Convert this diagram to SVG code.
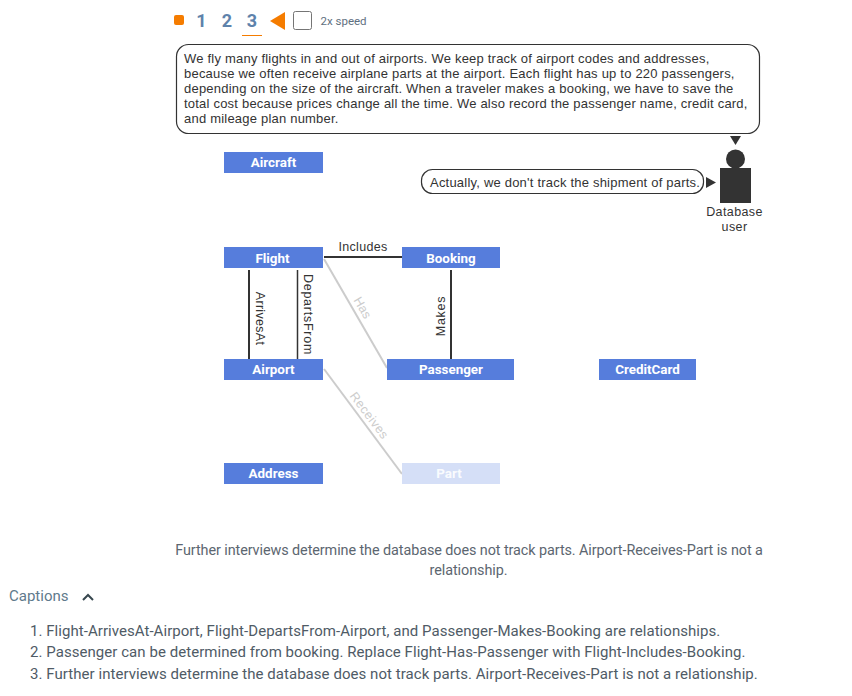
<svg xmlns="http://www.w3.org/2000/svg" width="852" height="696" viewBox="0 0 852 696">
<style>
.ui{font-family:Roboto,sans-serif}
.ar{font-family:"Liberation Sans",Arial,sans-serif}
.box{fill:#567ddc}
.lbl{font-family:Roboto,sans-serif;font-size:13.4px;font-weight:700;fill:#fff;text-anchor:middle}
.speech{font-family:"Liberation Sans",Arial,sans-serif;font-size:13px;fill:#333;letter-spacing:.21px}
.bub{fill:#fff;stroke:#333;stroke-width:1.2}
.cap{font-family:Roboto,sans-serif;font-size:15px;fill:#4f5b66;letter-spacing:.05px}
.edge{stroke:#333;fill:none}
.ghost{stroke:#ccc;stroke-width:2;fill:none}
.el{font-family:"Liberation Sans",Arial,sans-serif;font-size:12.5px;fill:#333;text-anchor:middle;letter-spacing:.3px}
.step{font-family:Roboto,sans-serif;font-size:18px;font-weight:700;fill:#5e82ab;text-anchor:middle}
</style>
<g id="controls">
<rect x="174" y="15" width="10" height="10" rx="2" fill="#f57c00"/>
<text class="step" x="201.500" y="26.500">1</text>
<text class="step" x="227" y="26.500">2</text>
<text class="step" x="252" y="26.500">3</text>
<rect x="242" y="35" width="20" height="1" fill="#f57c00"/>
<polygon points="270,21 285,12 285,30" fill="#f57c00"/>
<rect x="293.500" y="11.500" width="18" height="18" rx="2" fill="#fff" stroke="#757575" stroke-width="1"/>
<text class="ui" x="320.500" y="25" font-size="11.500" fill="#5f6f80">2x speed</text>
</g>
<g id="connectors">
<line class="ghost" x1="324" y1="259" x2="387" y2="368"/>
<line class="ghost" x1="324" y1="369" x2="402" y2="474"/>
<line class="edge" stroke-width="2" x1="324" y1="257" x2="402" y2="257"/>
<line class="edge" stroke-width="2" x1="249" y1="270" x2="249" y2="359"/>
<line class="edge" stroke-width="1.500" x1="297.500" y1="270" x2="297.500" y2="359"/>
<line class="edge" stroke-width="2" x1="451" y1="270" x2="451" y2="359"/>
<text class="el" x="363" y="251">Includes</text>
<text class="el" transform="translate(256 318.500) rotate(90)">ArrivesAt</text>
<text class="el" style="letter-spacing:.75px" transform="translate(304 314.500) rotate(90)">DepartsFrom</text>
<text class="el" style="letter-spacing:.7px" transform="translate(445 316) rotate(-90)">Makes</text>
<text class="el" style="fill:#ccc" transform="translate(359 310) rotate(60)">Has</text>
<text class="el" style="fill:#ccc;letter-spacing:.5px" transform="translate(366 418) rotate(53)">Receives</text>
</g>
<g id="Aircraft"><rect class="box" x="224" y="152" width="99" height="21"/><text class="lbl" x="273.500" y="167">Aircraft</text></g>
<g id="Flight"><rect class="box" x="224" y="247" width="99" height="21"/><text class="lbl" x="272.500" y="263">Flight</text></g>
<g id="Booking"><rect class="box" x="402" y="247" width="98" height="21"/><text class="lbl" x="451" y="263">Booking</text></g>
<g id="Airport"><rect class="box" x="224" y="359" width="99" height="21"/><text class="lbl" x="273.500" y="374">Airport</text></g>
<g id="Passenger"><rect class="box" x="387" y="359" width="127" height="21"/><text class="lbl" x="451" y="374">Passenger</text></g>
<g id="CreditCard"><rect class="box" x="599" y="359" width="97" height="21"/><text class="lbl" x="647.500" y="374">CreditCard</text></g>
<g id="Address"><rect class="box" x="224" y="463" width="99" height="21"/><text class="lbl" x="273.500" y="478">Address</text></g>
<g id="Part"><rect x="402" y="463" width="98" height="21" fill="#d5dff7"/><text class="lbl" x="449" y="478" fill-opacity=".9">Part</text></g>
<g id="speech-main">
<rect class="bub" x="176.500" y="44.500" width="583" height="89" rx="12"/>
<text class="speech"><tspan x="184" y="63">We fly many flights in and out of airports. We keep track of airport codes and addresses,</tspan><tspan x="184" y="78">because we often receive airplane parts at the airport. Each flight has up to 220 passengers,</tspan><tspan x="184" y="93">depending on the size of the aircraft. When a traveler makes a booking, we have to save the</tspan><tspan x="184" y="108">total cost because prices change all the time. We also record the passenger name, credit card,</tspan><tspan x="184" y="123">and mileage plan number.</tspan></text>
<polygon points="730,136 741,136 735.500,145" fill="#333"/>
</g>
<g id="speech-parts">
<rect class="bub" x="421.500" y="169.500" width="282" height="24" rx="11"/>
<text class="speech" x="430" y="187">Actually, we don't track the shipment of parts.</text>
<polygon points="706,177 716,182.500 706,188" fill="#333"/>
</g>
<g id="database-user">
<circle cx="735.500" cy="159" r="9.500" fill="#333"/>
<rect x="720" y="168" width="31" height="35" fill="#333"/>
<text class="ar" font-size="12.500" fill="#333" text-anchor="middle" letter-spacing=".4"><tspan x="734.500" y="216">Database</tspan><tspan x="734.500" y="231">user</tspan></text>
</g>
<g id="caption">
<text class="ui" font-size="14.400" fill="#5c6670" text-anchor="middle" letter-spacing="-.08"><tspan x="469" y="555">Further interviews determine the database does not track parts. Airport-Receives-Part is not a</tspan><tspan x="468.500" y="575">relationship.</tspan></text>
</g>
<g id="captions">
<text class="ui" x="9" y="601" font-size="15" fill="#5f7a8c">Captions</text>
<polyline points="83,600 88,595 93,600" fill="none" stroke="#37474f" stroke-width="2"/>
<text class="cap" x="30" y="636">1. Flight-ArrivesAt-Airport, Flight-DepartsFrom-Airport, and Passenger-Makes-Booking are relationships.</text>
<text class="cap" x="30" y="657">2. Passenger can be determined from booking. Replace Flight-Has-Passenger with Flight-Includes-Booking.</text>
<text class="cap" x="30" y="679">3. Further interviews determine the database does not track parts. Airport-Receives-Part is not a relationship.</text>
</g>
</svg>
